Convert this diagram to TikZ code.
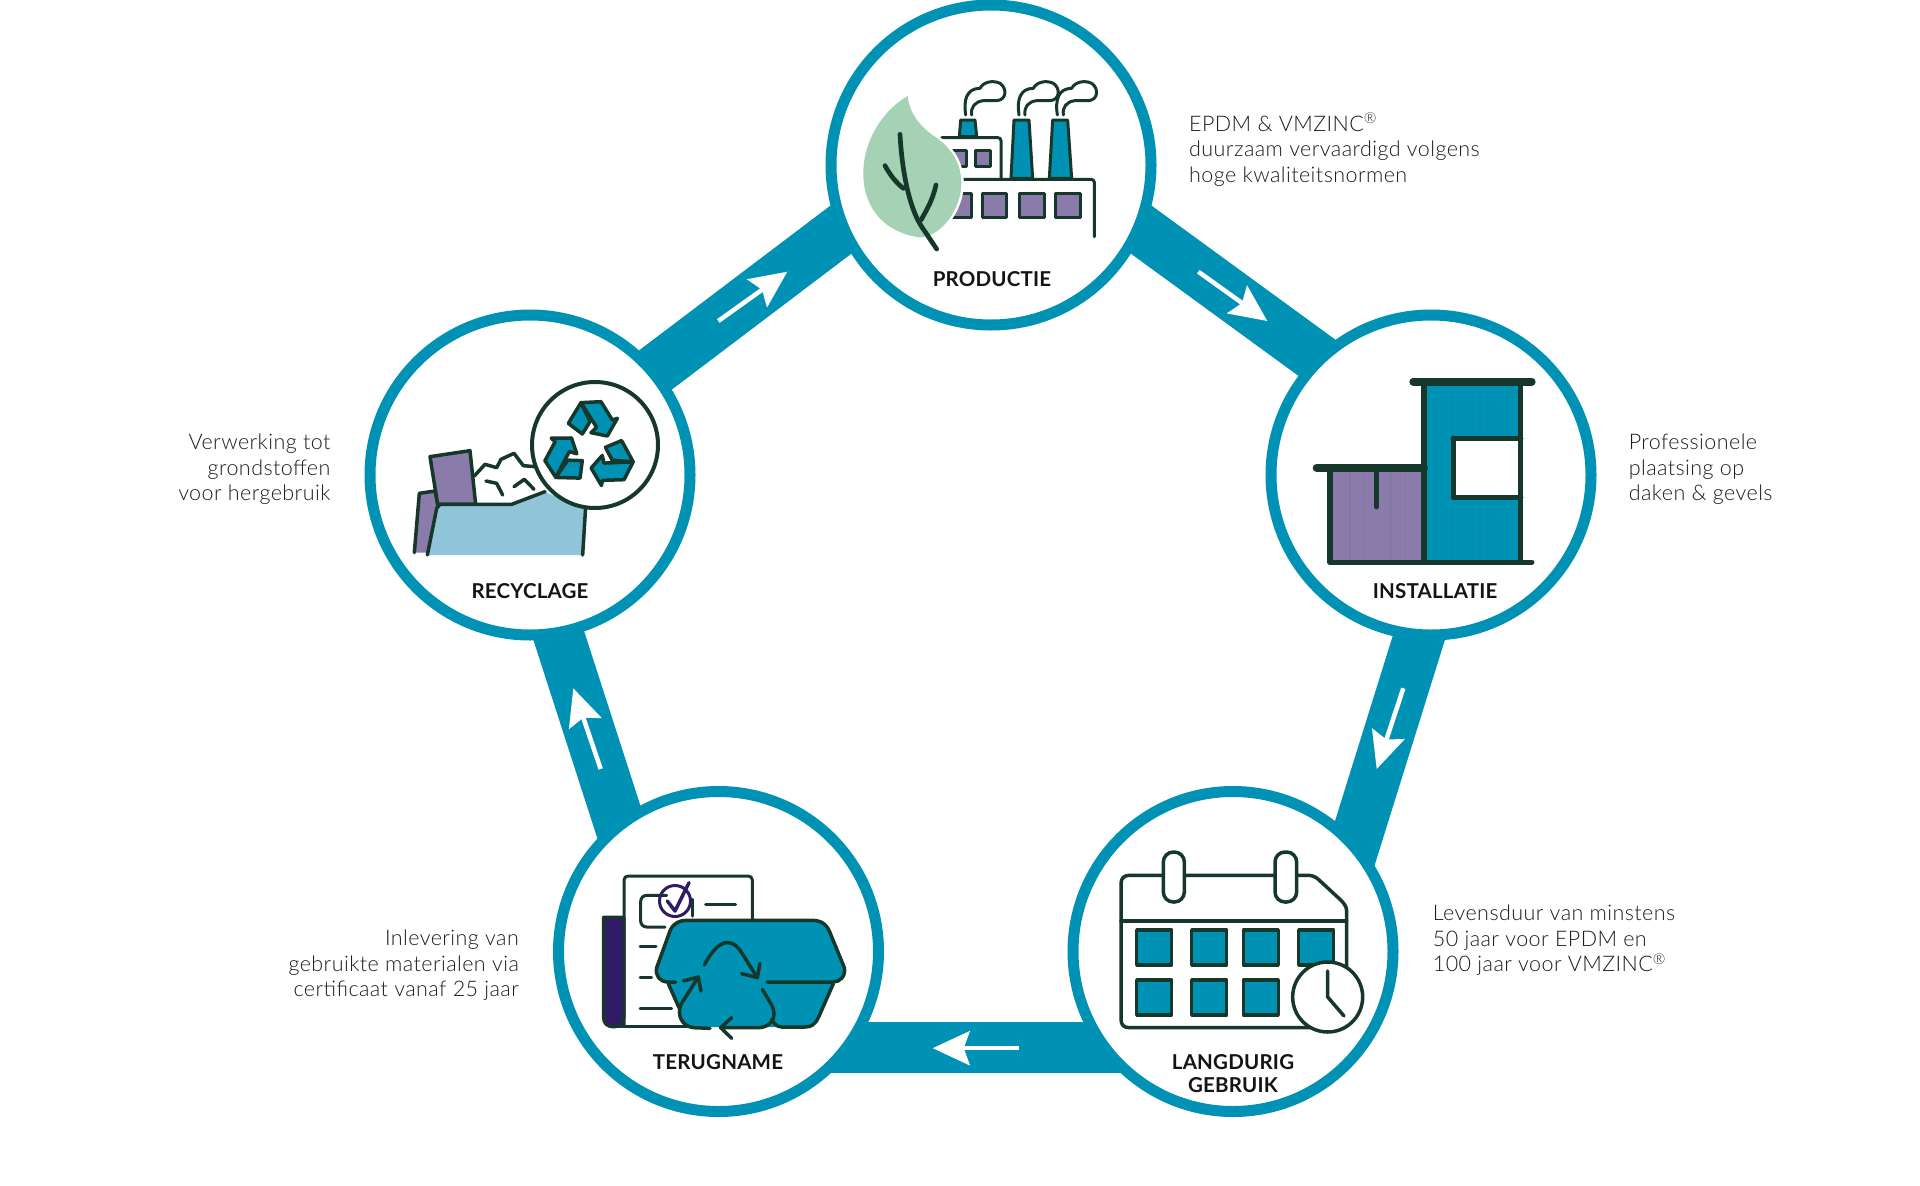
\documentclass[tikz,border=0pt]{standalone}
\usepackage{fontspec}
\usetikzlibrary{arrows.meta,backgrounds}
\setmainfont{Lato}
\newfontfamily\bodyfont{Lato Light}[LetterSpace=2]
\newfontfamily\labelfont{Lato}[UprightFont=* Bold,LetterSpace=1]
\definecolor{tealc}{HTML}{0092B4}
\definecolor{inkc}{HTML}{16382A}
\definecolor{purplec}{HTML}{8A7BAA}
\definecolor{leafc}{HTML}{A5D2B5}
\definecolor{binc}{HTML}{8FC4D9}
\definecolor{navyc}{HTML}{301C66}
\definecolor{textc}{HTML}{1C1C1C}
\definecolor{labelc}{HTML}{141414}
\tikzset{
  stage/.style={circle,draw=tealc,line width=11pt,fill=white,minimum size=320pt,inner sep=0pt,outer sep=0pt},
  bar/.style={draw=tealc,line width=51pt,shorten <=-35pt,shorten >=-35pt},
  flowarrow/.style={draw=white,line width=4.5pt,-{Stealth[length=37pt,width=34pt,inset=6pt,fill=white]}},
  stagelabel/.style={font=\labelfont\fontsize{20.5}{23.5}\selectfont,text=labelc,align=center,inner sep=0pt},
  notel/.style={font=\bodyfont\fontsize{21.5}{25.5}\selectfont,text=textc,align=left,anchor=west,inner sep=0pt},
  noter/.style={font=\bodyfont\fontsize{21.5}{25.5}\selectfont,text=textc,align=right,anchor=east,inner sep=0pt},
  thin ink/.style={draw=inkc,line width=3pt,line cap=round,line join=round},
  mid ink/.style={draw=inkc,line width=3.5pt,line cap=round,line join=round},
  heavy ink/.style={draw=inkc,line width=5.5pt,line cap=round,line join=round},
  zoomed/.style={x=0.33333pt,y=-0.33333pt}
}
\begin{document}
\begin{tikzpicture}[x=1pt,y=-1pt]
\useasboundingbox (0,0) rectangle (1920,1186);
% stages
\node[stage] (prod) at (991,165) {};
\node[stage] (inst) at (1431,475) {};
\node[stage] (lang) at (1233,951.5) {};
\node[stage] (teru) at (718.5,951.5) {};
\node[stage] (recy) at (530,475) {};
% bars behind
\begin{scope}[on background layer]
\fill[white] (0,0) rectangle (1920,1186);
\draw[bar] (prod.-23.65) -- (inst.134.5);
\draw[bar] (inst.266.2) -- (lang.41.7);
\draw[bar] (lang.217.1) -- (teru.-37.1);
\draw[bar] (teru.128.5) -- (recy.-80.4);
\draw[bar] (recy.40.8) -- (prod.203.6);
\end{scope}
% direction arrows
\coordinate (a1s) at (1198.3,271.7); \coordinate (a1e) at (1267.3,321);
\coordinate (a2s) at (1403.3,688.3); \coordinate (a2e) at (1376.7,769);
\coordinate (a3s) at (1019,1048.2); \coordinate (a3e) at (932.7,1048.2);
\coordinate (a4s) at (600.7,769); \coordinate (a4e) at (573.3,688.3);
\coordinate (a5s) at (718.3,321); \coordinate (a5e) at (787.3,271.7);
\draw[flowarrow] (a1s) -- (a1e);
\draw[flowarrow] (a2s) -- (a2e);
\draw[flowarrow] (a3s) -- (a3e);
\draw[flowarrow] (a4s) -- (a4e);
\draw[flowarrow] (a5s) -- (a5e);
% labels
\node[stagelabel] (lprod) at (992,279) {PRODUCTIE};
\node[stagelabel] (linst) at (1435,591) {INSTALLATIE};
\node[stagelabel] (llang) at (1233,1073.8) {LANGDURIG\\GEBRUIK};
\node[stagelabel] (lteru) at (718,1062.2) {TERUGNAME};
\node[stagelabel] (lrecy) at (530,591) {RECYCLAGE};
% notes
\node[notel] (nprod) at (1189,149.5) {EPDM \& VMZINC\textsuperscript{®}\\duurzaam vervaardigd volgens\\hoge kwaliteitsnormen};
\node[notel] (ninst) at (1628.6,469.5) {Professionele\\plaatsing op\\daken \& gevels};
\node[notel] (nlang) at (1432.7,940.5) {Levensduur van minstens\\50 jaar voor EPDM en\\100 jaar voor VMZINC\textsuperscript{®}};
\node[noter] (nteru) at (519,965.5) {Inlevering van\\gebruikte materialen via\\certificaat vanaf 25 jaar};
\node[noter] (nrecy) at (330.6,469.5) {Verwerking tot\\grondstoffen\\voor hergebruik};
% --- factory icon
\begin{scope}[shift={(820,0)},zoomed]
\foreach \dx in {0,160,275}{
  \draw[thin ink,xshift=\dx*0.33333pt] (437,345) .. controls (430,300) and (440,265) .. (480,265) .. controls (490,245) and (520,240) .. (540,250) .. controls (562,265) and (560,300) .. (530,302) -- (490,302) .. controls (465,305) and (452,320) .. (455,345);
}
\draw[thin ink,fill=tealc] (422,360) -- (465,360) -- (470,410) -- (418,410) -- cycle;
\draw[thin ink,fill=tealc] (582,360) -- (627,360) -- (638,535) -- (573,535) -- cycle;
\draw[thin ink,fill=tealc] (698,360) -- (743,360) -- (755,535) -- (688,535) -- cycle;
\draw[thin ink,rounded corners=3pt] (365,413) -- (543,413) -- (543,538);
\draw[thin ink,rounded corners=3pt] (400,538) -- (823,538) -- (823,710);
\draw[thin ink,fill=purplec] (395,452) rectangle (440,498);
\draw[thin ink,fill=purplec] (465,452) rectangle (512,498);
\draw[thin ink,fill=purplec] (390,580) rectangle (453,652);
\draw[thin ink,fill=purplec] (488,580) rectangle (560,652);
\draw[thin ink,fill=purplec] (598,580) rectangle (672,652);
\draw[thin ink,fill=purplec] (706,580) rectangle (780,652);
\def\leafpath{(263,288) .. controls (268,340) and (300,380) .. (345,410) .. controls (395,445) and (424,490) .. (424,550) .. controls (424,630) and (360,712) .. (300,712) .. controls (200,700) and (130,630) .. (130,520) .. controls (130,420) and (190,330) .. (263,288) -- cycle}
\draw[draw=white,line width=5pt] \leafpath;
\fill[leafc] \leafpath;
\draw[draw=inkc,line width=4.7pt,line cap=round,line join=round] (240,403) .. controls (245,500) and (265,620) .. (305,680) -- (350,747);
\draw[draw=inkc,line width=4.7pt,line cap=round,line join=round] (195,497) .. controls (210,525) and (230,550) .. (250,565);
\draw[draw=inkc,line width=4.7pt,line cap=round,line join=round] (348,555) .. controls (338,600) and (320,630) .. (303,660);
\end{scope}
% --- building icon
\begin{scope}[shift={(1260,310)},zoomed]
\fill[purplec] (210,480) rectangle (492,757);
\fill[tealc] (492,222) rectangle (782,757);
\foreach \sx in {270,310,393,437}{\draw[purplec!88!black,opacity=.25,line width=1.5pt] (\sx,485) -- (\sx,750);}
\foreach \sx in {535,578,620,660,703,745}{\draw[tealc!90!black,opacity=.25,line width=1.5pt] (\sx,225) -- (\sx,750);}
\fill[white] (580,385) rectangle (782,562);
\draw[heavy ink] (580,385) -- (782,385);
\draw[heavy ink] (782,562) -- (580,562) -- (580,385);
\draw[heavy ink] (492,215) -- (492,757);
\draw[heavy ink] (782,215) -- (782,757);
\draw[heavy ink] (210,473) -- (210,757) -- (815,757);
\draw[heavy ink] (350,473) -- (350,590);
\draw[draw=inkc,line width=8pt,line cap=round] (460,215) -- (815,215);
\draw[draw=inkc,line width=8pt,line cap=round] (170,473) -- (492,473);
\end{scope}
% --- calendar icon
\begin{scope}[shift={(1070,791)},zoomed]
\draw[mid ink] (830,530) -- (830,360) .. controls (830,345) and (820,335) .. (810,325) -- (745,265) .. controls (735,256) and (725,253) .. (712,253) -- (178,253) .. controls (162,253) and (153,262) .. (153,278) -- (153,685) .. controls (153,702) and (162,710) .. (178,710) -- (725,710);
\draw[mid ink] (153,390) -- (830,390);
\draw[mid ink,fill=white,rounded corners=10pt] (280,183) rectangle (343,333);
\draw[mid ink,fill=white,rounded corners=10pt] (615,183) rectangle (680,333);
\foreach \sx/\sy in {200/417,365/417,520/417,686/417,200/567,365/567,520/567}{
  \draw[mid ink,fill=tealc] (\sx,\sy) rectangle ++(105,105);
}
\draw[mid ink,fill=white] (773,618) circle[radius=35pt];
\draw[mid ink] (773,540) -- (773,618) -- (822,675);
\end{scope}
% --- take-back icon
\begin{scope}[shift={(555,791)},zoomed]
\draw[thin ink,rounded corners=4pt] (207,705) -- (207,255) -- (592,255) -- (592,390);
\draw[thin ink] (180,705) -- (400,705);
\draw[thin ink,fill=navyc] (145,378) -- (207,378) -- (207,678) .. controls (207,698) and (195,708) .. (176,708) .. controls (157,708) and (145,698) .. (145,678) -- cycle;
\draw[thin ink,rounded corners=6pt] (335,313) -- (257,313) -- (257,408) -- (330,408);
\draw[thin ink] (412,325) -- (412,375);
\draw[draw=navyc,line width=3pt] (360,330) circle[radius=15.5pt];
\draw[draw=navyc,line width=3.5pt,line cap=round,line join=round] (337,330) -- (360,360) -- (402,275);
\draw[thin ink] (452,340) -- (542,340);
\draw[thin ink] (255,467) -- (303,467);
\draw[thin ink] (255,560) -- (290,560);
\draw[thin ink] (255,652) -- (350,652);
\fill[tealc] (340,573) .. controls (315,573) and (300,555) .. (305,530) -- (345,420) .. controls (355,395) and (375,388) .. (395,388) -- (770,388) .. controls (800,388) and (815,400) .. (825,425) -- (868,530) .. controls (873,555) and (855,573) .. (835,573) -- (790,680) .. controls (780,700) and (770,708) .. (750,708) -- (410,708) .. controls (380,700) and (365,670) .. (372,650) -- cycle;
\draw[mid ink] (362,573) -- (340,573) .. controls (315,573) and (300,555) .. (305,530) -- (345,420) .. controls (355,395) and (375,388) .. (395,388) -- (770,388) .. controls (800,388) and (815,400) .. (825,425) -- (868,530) .. controls (873,555) and (855,573) .. (835,573) -- (636,573);
\draw[mid ink] (340,578) -- (372,650);
\draw[mid ink] (835,578) -- (790,680) .. controls (780,700) and (770,708) .. (750,708) -- (680,708) .. controls (665,708) and (655,695) .. (650,685);
\draw[mid ink] (448,522) .. controls (475,470) and (500,455) .. (515,455) .. controls (540,455) and (550,470) .. (560,485) -- (607,560);
\draw[mid ink] (615,517) -- (607,560) -- (560,548);
\draw[mid ink] (622,595) -- (650,642) .. controls (670,680) and (645,710) .. (610,710) -- (497,710);
\draw[mid ink] (530,680) -- (497,710) -- (530,742);
\draw[mid ink] (465,712) -- (415,710) .. controls (380,705) and (365,672) .. (378,640) -- (430,558);
\draw[mid ink] (385,570) -- (430,558) -- (438,600);
\end{scope}
% --- recycling icon
\begin{scope}[shift={(365,310)},zoomed]
\draw[mid ink,fill=purplec] (148,728) -- (163,550) -- (210,543) -- (220,590) -- (190,728);
\draw[mid ink,fill=purplec] (195,440) -- (315,422) -- (332,583) -- (218,583) -- cycle;
\draw[mid ink] (328,498) -- (360,463) -- (395,473) -- (408,448) -- (447,430) -- (475,467) -- (510,470);
\draw[mid ink] (363,513) -- (395,520) -- (413,555);
\draw[mid ink] (447,530) -- (478,508) -- (507,538);
\fill[binc] (190,735) -- (215,595) -- (225,583) -- (440,583) -- (540,545) -- (660,600) -- (655,735) -- cycle;
\draw[mid ink] (187,735) -- (215,595) -- (225,583) -- (440,583) -- (540,545);
\draw[mid ink] (662,590) -- (653,735);
\draw[draw=inkc,line width=4pt,fill=white] (690,405) circle[radius=63pt];
\foreach \ang in {0,-120,-240}{
\begin{scope}[rotate around={\ang:(675,412)}]
\draw[mid ink,fill=tealc] (610,340) -- (648,278) -- (675,335) -- (652,372) -- cycle;
\draw[mid ink,fill=tealc] (648,278) -- (708,275) -- (742,330) -- (757,325) -- (727,378) -- (678,368) -- (695,352) -- cycle;
\end{scope}}
\end{scope}
\end{tikzpicture}
\end{document}
